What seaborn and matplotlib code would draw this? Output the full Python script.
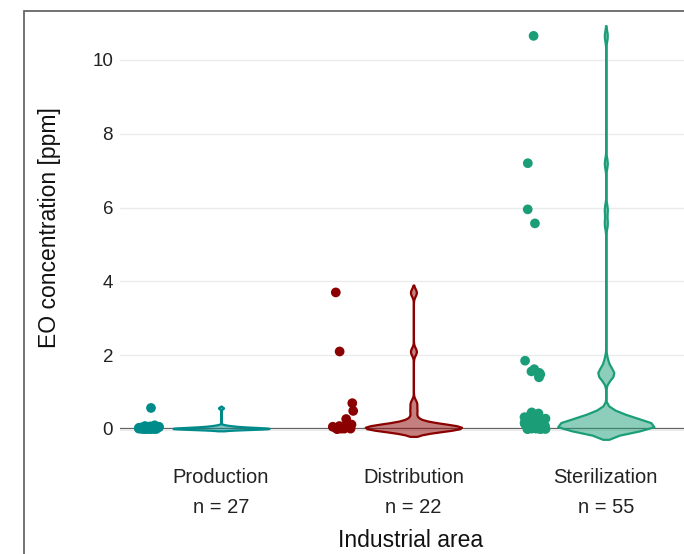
import numpy as np
import pandas as pd
import matplotlib
matplotlib.use('Agg')
import matplotlib.pyplot as plt
import matplotlib.transforms as mtransforms
from matplotlib.patches import Rectangle
import seaborn as sns

# EO concentrations [ppm], per industrial area
areas = ['Production', 'Distribution', 'Sterilization']
production = [0.57, 0.10, 0.08, 0.07, 0.06, 0.05, 0.04, 0.04, 0.03, 0.03, 0.03,
              0.02, 0.02, 0.02, 0.02, 0.01, 0.01, 0.01, 0.01, 0.01,
              0.0, 0.0, 0.0, 0.0, 0.0, 0.0, 0.0]
distribution = [3.7, 2.1, 0.7, 0.49, 0.27, 0.12, 0.10, 0.08, 0.06, 0.05, 0.05,
                0.04, 0.03, 0.03, 0.02, 0.02, 0.02, 0.01, 0.01, 0.01, 0.0, 0.0]
sterilization = [10.65, 7.2, 5.95, 5.57,
                 1.85, 1.62, 1.56, 1.52, 1.48, 1.44, 1.40,
                 0.45, 0.42, 0.40, 0.38, 0.36, 0.34, 0.32, 0.30, 0.28, 0.26,
                 0.25, 0.23, 0.21, 0.20, 0.18, 0.17, 0.15, 0.14, 0.13, 0.12,
                 0.11, 0.10, 0.09, 0.08, 0.08, 0.07, 0.06, 0.06, 0.05, 0.05,
                 0.04, 0.04, 0.03, 0.03, 0.02, 0.02, 0.02, 0.01, 0.01, 0.0,
                 0.0, 0.0, 0.0, 0.0]
colors = ['#008B8B', '#8B0000', '#1b9e77']
bandwidths = [0.025, 0.1, 0.14]  # kde bandwidth per violin, in ppm
y_ticks = [0, 2, 4, 6, 8, 10]

values = [production, distribution, sterilization]
df = pd.DataFrame({
    'area': np.repeat(areas, [len(v) for v in values]),
    'eo': np.concatenate(values),
})
palette = dict(zip(areas, colors))


def fixed_bw(bw):
    # scipy wants a factor relative to the sample std
    return lambda kde: bw / kde.dataset[0].std(ddof=1)


sns.set_theme(style='white')
plt.rcParams['font.family'] = ['Liberation Sans', 'DejaVu Sans']

fig = plt.figure(figsize=(6.84, 5.54), dpi=100)
ax = fig.add_axes([120 / 684, 96 / 554, 582 / 684, 438 / 554])

for area, c, bw in zip(areas, colors, bandwidths):
    sns.violinplot(data=df[df['area'] == area], x='area', y='eo', order=areas,
                   color=c, inner=None, cut=2, width=0.5, linewidth=1.6,
                   bw_method=fixed_bw(bw), saturation=1, ax=ax)
    rgb = matplotlib.colors.to_rgb(c)
    ax.collections[-1].set_facecolor((*rgb, 0.5))
    ax.collections[-1].set_edgecolor(rgb)
n_violins = len(ax.collections)

np.random.seed(3)
sns.stripplot(data=df, x='area', y='eo', hue='area', order=areas, palette=palette,
              jitter=0.06, size=7, linewidth=0, legend=False, ax=ax)
# move the points to the left of each violin
shift = mtransforms.Affine2D().translate(-0.37, 0) + ax.transData
for coll in ax.collections[n_violins:]:
    coll.set_offset_transform(shift)

ax.axhline(0, color='#444444', lw=1.6, zorder=0.5)
ax.set_xlim(-0.525, 2.5)
ax.set_ylim(-0.786, 11.08)
ax.set_yticks(y_ticks)
ax.yaxis.grid(True, color='#ebebeb', lw=1)
ax.set_axisbelow(True)
for s in ax.spines.values():
    s.set_visible(False)

ax.set_xticks(range(len(areas)))
ax.set_xticklabels([f'{a}\nn = {len(v)}' for a, v in zip(areas, values)],
                   linespacing=1.75)
ax.tick_params(axis='x', length=0, pad=7, labelsize=14.5, labelcolor='#222222')
ax.tick_params(axis='y', length=0, pad=5, labelsize=13.5, labelcolor='#222222')

ax.set_xlabel('Industrial area', fontsize=16.5, color='#111111')
ax.set_ylabel('EO concentration [ppm]', fontsize=16.5, color='#111111')
ax.xaxis.set_label_coords(0.5, -0.163)
ax.yaxis.set_label_coords(-0.102, 0.525)

# outer frame of the original figure (cropped on the right and bottom)
fig.add_artist(Rectangle((24 / 684, -0.5), 2, 0.5 + 543 / 554, fill=False,
                         ec='#666666', lw=1.3, transform=fig.transFigure))

fig.savefig('out.png', dpi=100)
plt.close(fig)
